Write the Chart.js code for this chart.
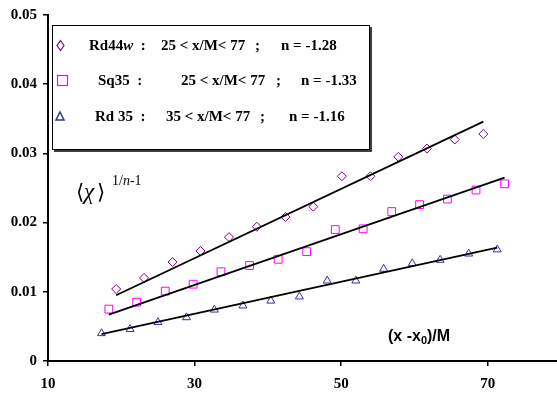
<!DOCTYPE html>
<html lang="en">
<head>
<meta charset="UTF-8" />
<title>chi vs (x-x0)/M</title>
<script src="https://cdn.jsdelivr.net/npm/chart.js"></script>
<style>
  html, body { margin: 0; padding: 0; background: #fff; overflow: hidden; }
</style>
</head>
<body>
<canvas id="myChart" width="557" height="394"></canvas>
<script>
// data
const xRd44w = [19.3, 23.1, 27.0, 30.8, 34.7, 38.5, 42.4, 46.2, 50.1, 54.0, 57.8, 61.7, 65.5, 69.4];
const yRd44w = [0.0104, 0.0120, 0.0143, 0.0159, 0.0179, 0.0194, 0.0208, 0.0223, 0.0267, 0.0267, 0.0295, 0.0307, 0.0320, 0.0328];

const xSq35 = [18.3, 22.1, 26.0, 29.8, 33.6, 37.5, 41.4, 45.3, 49.2, 53.0, 56.9, 60.7, 64.5, 68.4, 72.3];
const ySq35 = [0.0075, 0.0085, 0.0101, 0.0111, 0.0129, 0.0138, 0.0147, 0.0158, 0.0190, 0.0191, 0.0216, 0.0226, 0.0234, 0.0247, 0.0256];

const xRd35 = [17.3, 21.2, 25.0, 28.9, 32.7, 36.6, 40.4, 44.3, 48.1, 52.0, 55.8, 59.7, 63.5, 67.4, 71.3];
const yRd35 = [0.0040, 0.0046, 0.0056, 0.0063, 0.0074, 0.0080, 0.0087, 0.0093, 0.0116, 0.0116, 0.0133, 0.0141, 0.0146, 0.0155, 0.0161];

// fitted lines (end points)
const fitRd44wX = [19.3, 69.4];
const fitRd44wY = [0.0095, 0.0346];
const fitSq35X = [18.3, 72.3];
const fitSq35Y = [0.0067, 0.0265];
const fitRd35X = [17.3, 71.3];
const fitRd35Y = [0.0039, 0.0164];

const xTicks = [10, 30, 50, 70];
const legendRows = [
  { name: "Rd44", italic: "w", range: "25 < x/M< 77", n: "n = -1.28" },
  { name: "Sq35", italic: "", range: "25 < x/M< 77", n: "n = -1.33" },
  { name: "Rd 35", italic: "", range: "35 < x/M< 77", n: "n = -1.16" },
];

const PURPLE = "#800080";
const MAGENTA = "#ff00ff";
const NAVY = "#333399";

function pts(xs, ys) {
  return xs.map((x, i) => ({ x: x, y: ys[i] }));
}

function markerSet(xs, ys, style, color, radius) {
  return {
    data: pts(xs, ys),
    showLine: false,
    pointStyle: style,
    pointRadius: radius,
    pointBorderColor: color,
    pointBackgroundColor: "rgba(0,0,0,0)",
    pointBorderWidth: 1,
  };
}

function fitSet(xs, ys) {
  return {
    data: pts(xs, ys),
    showLine: true,
    borderColor: "#000",
    borderWidth: 1.8,
    pointRadius: 0,
  };
}

const serif = "'Liberation Serif', 'Times New Roman', serif";
const sans = "'Liberation Sans', Arial, sans-serif";

// legend box, annotations and axis title drawn on top
const extras = {
  id: "extras",
  afterDraw(chart) {
    const ctx = chart.ctx;
    ctx.save();

    // legend box with a little shadow
    ctx.fillStyle = "#fff";
    ctx.fillRect(52, 25, 318, 125);
    ctx.strokeStyle = "#000";
    ctx.lineWidth = 1;
    ctx.strokeRect(52.5, 25.5, 317, 124);
    ctx.lineWidth = 1.5;
    ctx.beginPath();
    ctx.moveTo(371, 27);
    ctx.lineTo(371, 151);
    ctx.lineTo(54, 151);
    ctx.stroke();

    // legend markers
    ctx.lineWidth = 1.2;
    ctx.strokeStyle = PURPLE;
    ctx.beginPath();
    ctx.moveTo(60.5, 40.5);
    ctx.lineTo(64, 45.5);
    ctx.lineTo(60.5, 50.5);
    ctx.lineTo(57, 45.5);
    ctx.closePath();
    ctx.stroke();

    ctx.strokeStyle = MAGENTA;
    ctx.strokeRect(57.5, 75.5, 10, 10);

    ctx.strokeStyle = NAVY;
    ctx.lineWidth = 1.5;
    ctx.beginPath();
    ctx.moveTo(60, 112);
    ctx.lineTo(64, 120);
    ctx.lineTo(56, 120);
    ctx.closePath();
    ctx.stroke();

    // legend text
    ctx.fillStyle = "#000";
    ctx.textBaseline = "middle";
    ctx.textAlign = "left";
    const rowY = [46, 81, 117];
    const nameX = [89, 98, 95];
    const rangeX = [161, 181, 166];
    const semiX = [255, 276, 260];
    const nX = [281, 301, 289];
    legendRows.forEach((r, i) => {
      ctx.font = "bold 15px " + serif;
      ctx.fillText(r.name, nameX[i], rowY[i]);
      let x = nameX[i] + ctx.measureText(r.name).width;
      if (r.italic) {
        ctx.font = "bold italic 15px " + serif;
        ctx.fillText(r.italic, x, rowY[i]);
        x += ctx.measureText(r.italic).width;
      }
      ctx.font = "bold 15px " + serif;
      ctx.fillText("  :", x, rowY[i]);
      ctx.fillText(r.range, rangeX[i], rowY[i]);
      ctx.fillText(";", semiX[i], rowY[i]);
      ctx.fillText(r.n, nX[i], rowY[i]);
    });

    // y quantity
    ctx.font = "21px " + serif;
    ctx.fillText("\u27E8", 76, 193);
    ctx.font = "italic 23px " + serif;
    ctx.fillText("\u03C7", 84, 193);
    ctx.font = "21px " + serif;
    ctx.fillText("\u27E9", 97, 193);
    ctx.font = "14px " + serif;
    ctx.fillText("1/", 112, 181);
    let sx = 112 + ctx.measureText("1/").width;
    ctx.font = "italic 14px " + serif;
    ctx.fillText("n", sx, 181);
    sx += ctx.measureText("n").width;
    ctx.font = "14px " + serif;
    ctx.fillText("-1", sx, 181);

    // x title
    ctx.font = "bold 16px " + sans;
    ctx.fillText("(x -x", 388, 337);
    let tx = 388 + ctx.measureText("(x -x").width;
    ctx.font = "bold 11px " + sans;
    ctx.fillText("0", tx, 341);
    tx += ctx.measureText("0").width;
    ctx.font = "bold 16px " + sans;
    ctx.fillText(")/M", tx, 337);

    ctx.restore();
  },
};

const config = {
  type: "scatter",
  data: {
    datasets: [
      fitSet(fitRd44wX, fitRd44wY),
      fitSet(fitSq35X, fitSq35Y),
      fitSet(fitRd35X, fitRd35Y),
      markerSet(xRd44w, yRd44w, "rectRot", PURPLE, 4.5),
      markerSet(xSq35, ySq35, "rect", MAGENTA, 5.5),
      markerSet(xRd35, yRd35, "triangle", NAVY, 4.6),
    ],
  },
  options: {
    responsive: false,
    animation: false,
    layout: { autoPadding: false, padding: { top: 15, right: 0, left: 0, bottom: 0 } },
    plugins: {
      legend: { display: false },
      tooltip: { enabled: false },
    },
    scales: {
      x: {
        type: "linear",
        min: 10,
        max: 79.45,
        afterBuildTicks(scale) {
          scale.ticks = xTicks.map((v) => ({ value: v }));
        },
        afterFit(scale) {
          scale.height = 33;
          scale.paddingLeft = 0;
          scale.paddingRight = 0;
        },
        grid: {
          drawOnChartArea: false,
          drawTicks: true,
          tickLength: 5,
          color: "#000",
          lineWidth: 1.5,
        },
        border: { color: "#000", width: 2 },
        ticks: {
          color: "#000",
          padding: 9,
          maxRotation: 0,
          font: { family: serif, size: 15, weight: "bold" },
        },
      },
      y: {
        type: "linear",
        min: 0,
        max: 0.05,
        afterFit(scale) {
          scale.width = 48;
          scale.paddingTop = 0;
          scale.paddingBottom = 0;
        },
        grid: {
          drawOnChartArea: false,
          drawTicks: true,
          tickLength: 5,
          color: "#000",
          lineWidth: 1.5,
        },
        border: { color: "#000", width: 2 },
        ticks: {
          stepSize: 0.01,
          color: "#000",
          padding: 6,
          font: { family: serif, size: 15, weight: "bold" },
          callback(v) {
            return v === 0 ? "0" : v.toFixed(2);
          },
        },
      },
    },
  },
  plugins: [extras],
};

document.addEventListener("DOMContentLoaded", function () {
  const ctx = document.getElementById("myChart").getContext("2d");
  new Chart(ctx, config);
});
</script>
</body>
</html>
